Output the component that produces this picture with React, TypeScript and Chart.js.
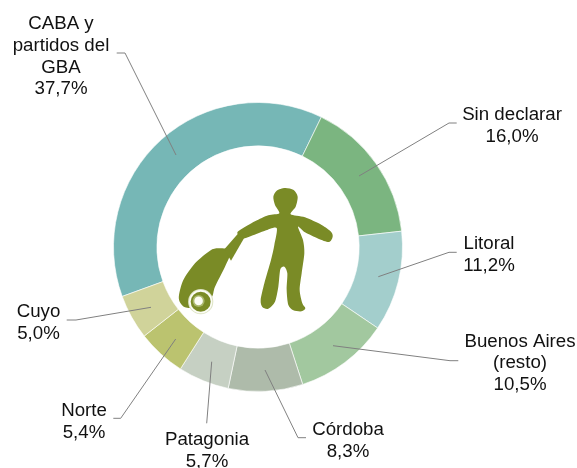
import React, { useEffect, useRef } from "react";
import { Chart, registerables } from "chart.js";

Chart.register(...registerables);

const categories = ["CABA y partidos del GBA", "Sin declarar", "Litoral", "Buenos Aires (resto)", "Córdoba", "Patagonia", "Norte", "Cuyo"];
const values = [37.7, 16.0, 11.2, 10.5, 8.3, 5.7, 5.4, 5.0];
const colors = ["#76B7B6", "#7BB580", "#A3CECC", "#A2C89F", "#AEBBAA", "#C6D0C3", "#BBC36F", "#D0D39A"];
const labelLines = [
  ["CABA y", "partidos del", "GBA", "37,7%"],
  ["Sin declarar", "16,0%"],
  ["Litoral", "11,2%"],
  ["Buenos Aires", "(resto)", "10,5%"],
  ["Córdoba", "8,3%"],
  ["Patagonia", "5,7%"],
  ["Norte", "5,4%"],
  ["Cuyo", "5,0%"],
];
// centre x and first baseline of each label block
const labelAnchors: [number, number][] = [
  [61, 29], [512, 120], [489, 249], [520, 346.5], [348, 435], [207, 445], [84, 416], [38.5, 317],
];
const leaders: [number, number][][] = [
  [[116.7, 53], [125, 53], [176, 155]],
  [[456.7, 123], [449, 123], [359, 176]],
  [[456.7, 252.3], [449, 252.3], [378.3, 276.7]],
  [[458.3, 360.7], [450, 360.7], [333, 345.7]],
  [[306, 437.7], [298, 437.7], [265, 370]],
  [[206.7, 423.3], [211.7, 361.7]],
  [[113.3, 418.3], [120.7, 418.3], [175.7, 339]],
  [[66.7, 320], [76, 320], [151, 307.3]],
];

const personOutline: [number, number][] = [
  [180, 24], [206, 30], [218, 50], [212, 80], [197, 103], [240, 112], [290, 135], [318, 155], [323, 170], [312, 186],
  [280, 176], [240, 157], [219, 140], [234, 180], [238, 220], [230, 280], [224, 330], [232, 370], [241, 385], [230, 394],
  [205, 391], [190, 375], [185, 330], [187, 280], [178, 260], [166, 268], [160, 320], [150, 365], [130, 386], [112, 381],
  [107, 360], [118, 310], [138, 240], [148, 195], [155, 144], [120, 152], [80, 167], [50, 176], [37, 160], [45, 150],
  [90, 124], [130, 106], [163, 100], [150, 75], [145, 50], [155, 32],
];
const caseOutline: [number, number][] = [
  [130, 55], [168, 62], [150, 110], [120, 170], [108, 205], [60, 232], [30, 232], [14, 215], [12, 195], [25, 150], [60, 100], [105, 62],
];
const handleOutline: [number, number][] = [[188, 12], [207, 25], [168, 92], [148, 58]];

function smooth(points: [number, number][]) {
  const n = points.length;
  let d = `M${points[0][0]} ${points[0][1]}`;
  for (let i = 0; i < n; i++) {
    const p0 = points[(i - 1 + n) % n];
    const p1 = points[i];
    const p2 = points[(i + 1) % n];
    const p3 = points[(i + 2) % n];
    const k = 7.5;
    d += `C${p1[0] + (p2[0] - p0[0]) / k} ${p1[1] + (p2[1] - p0[1]) / k} ${p2[0] - (p3[0] - p1[0]) / k} ${p2[1] - (p3[1] - p1[1]) / k} ${p2[0]} ${p2[1]}`;
  }
  return d + "Z";
}

const OLIVE = "#7A8B26";

const decoration = {
  id: "decoration",
  afterDraw(chart: Chart) {
    const ctx = chart.ctx;
    ctx.save();
    // traveller silhouette
    ctx.save();
    ctx.translate(225, 180);
    ctx.scale(1 / 3, 1 / 3);
    ctx.fillStyle = OLIVE;
    ctx.fill(new Path2D(smooth(personOutline)));
    ctx.restore();
    ctx.save();
    ctx.translate(175, 230);
    ctx.scale(1 / 3, 1 / 3);
    ctx.fillStyle = OLIVE;
    ctx.fill(new Path2D(smooth(caseOutline)));
    ctx.beginPath();
    handleOutline.forEach(([x, y], i) => (i ? ctx.lineTo(x, y) : ctx.moveTo(x, y)));
    ctx.closePath();
    ctx.fill();
    ctx.restore();
    // wheel
    const wheel: [number, number, number, string][] = [
      [200.7, 301.7, 12.6, "#DDE3C4"],
      [200.7, 301.7, 11.6, "#FBFCF6"],
      [200.7, 301.7, 10, OLIVE],
      [198.6, 300.9, 6, "#A9B76B"],
      [198.6, 300.9, 4.3, "#FBFCF4"],
    ];
    wheel.forEach(([x, y, r, c]) => {
      ctx.fillStyle = c;
      ctx.beginPath();
      ctx.arc(x, y, r, 0, Math.PI * 2);
      ctx.fill();
    });
    // leaders
    ctx.strokeStyle = "#808080";
    ctx.lineWidth = 1;
    leaders.forEach((pts) => {
      ctx.beginPath();
      pts.forEach(([x, y], i) => (i ? ctx.lineTo(x, y) : ctx.moveTo(x, y)));
      ctx.stroke();
    });
    // labels
    ctx.fillStyle = "#111111";
    ctx.font = '18.7px "Liberation Sans"';
    ctx.textAlign = "center";
    ctx.textBaseline = "alphabetic";
    labelLines.forEach((lines, i) => {
      const [x, y] = labelAnchors[i];
      lines.forEach((t, j) => ctx.fillText(t, x, y + j * 21.8));
    });
    ctx.restore();
  },
};

export default function App() {
  const ref = useRef<HTMLCanvasElement>(null);
  useEffect(() => {
    document.body.style.margin = "0";
    const chart = new Chart(ref.current!, {
      type: "doughnut",
      data: {
        labels: categories,
        datasets: [{ data: values, backgroundColor: colors, borderColor: "rgba(255,255,255,0.6)", borderWidth: 1 }],
      },
      options: {
        responsive: false,
        animation: false,
        rotation: 250,
        circumference: 360,
        cutout: "70%",
        layout: { padding: { left: 113, right: 174, top: 102, bottom: 76 } },
        plugins: { legend: { display: false }, tooltip: { enabled: false } },
      },
      plugins: [decoration],
    });
    return () => chart.destroy();
  }, []);
  return (
    <div style={{ width: 577, height: 468, background: "#fff" }}>
      <canvas ref={ref} width={577} height={468} style={{ display: "block" }} />
    </div>
  );
}
